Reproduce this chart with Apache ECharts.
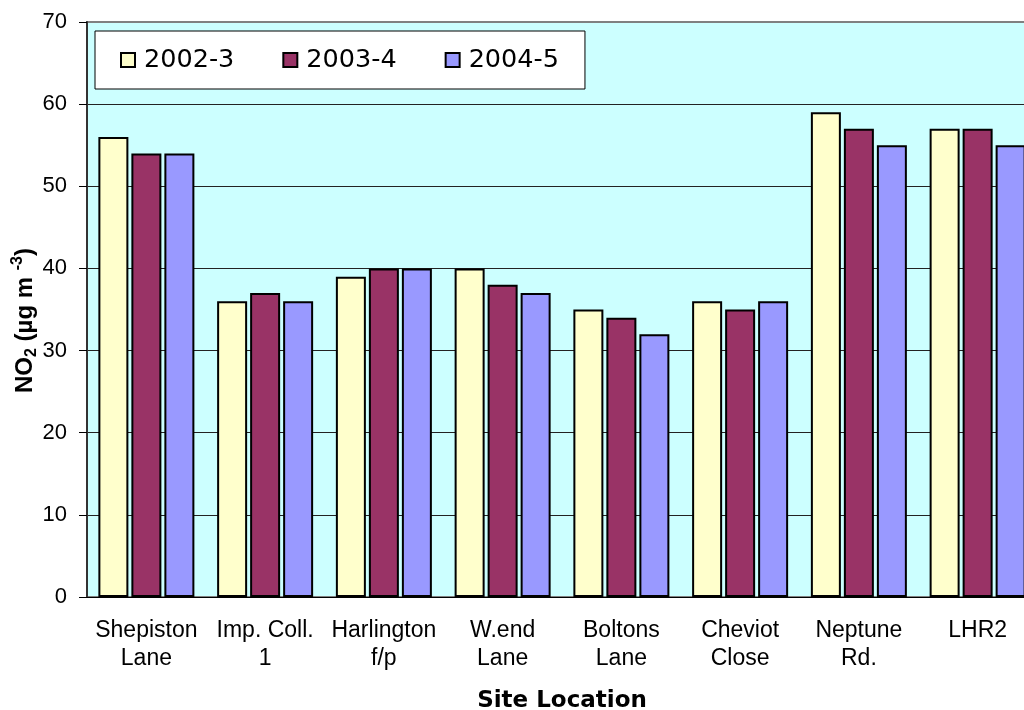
<!DOCTYPE html>
<html>
<head>
<meta charset="utf-8">
<script src="https://cdn.jsdelivr.net/npm/echarts@6/dist/echarts.min.js"></script>
<style>
  html, body { margin: 0; padding: 0; background: #fff; }
  #main { width: 1024px; height: 710px; }
</style>
</head>
<body>
<div id="main"></div>
<script>
// site locations along the x axis
const sites = ['Shepiston\nLane', 'Imp. Coll.\n1', 'Harlington\nf/p', 'W.end\nLane',
  'Boltons\nLane', 'Cheviot\nClose', 'Neptune\nRd.', 'LHR2'];
const seriesNames = ['2002-3', '2003-4', '2004-5'];
// NO2 annual means per year
const y2002 = [56, 36, 39, 40, 35, 36, 59, 57];
const y2003 = [54, 37, 40, 38, 34, 35, 57, 57];
const y2004 = [54, 36, 40, 37, 32, 36, 55, 55];
const colors = ['#FFFFCC', '#993366', '#9999FF'];

const chart = echarts.init(document.getElementById('main'));
const values = [y2002, y2003, y2004];

const option = {
  animation: false,
  grid: {
    left: 87, right: -13, top: 22, bottom: 113,
    outerBoundsMode: 'none',
    containLabel: false,
    show: true,
    backgroundColor: '#CCFFFF',
    borderColor: '#808080',
    borderWidth: 2
  },
  legend: {
    left: 95, top: 31,
    orient: 'horizontal',
    backgroundColor: '#fff',
    borderColor: '#000',
    borderWidth: 1,
    padding: [16, 26, 16, 25],
    itemGap: 48,
    itemWidth: 14,
    itemHeight: 14,
    icon: 'rect',
    itemStyle: { borderColor: '#000', borderWidth: 2 },
    textStyle: { fontFamily: 'DejaVu Sans', fontSize: 25.5, color: '#000', padding: [0, 0, 0, 4] },
    data: seriesNames
  },
  xAxis: {
    type: 'category',
    data: sites,
    axisLine: { lineStyle: { color: '#000', width: 1 } },
    axisTick: { show: false },
    axisLabel: {
      fontFamily: 'Liberation Sans', fontSize: 23, color: '#000',
      lineHeight: 28, margin: 20, interval: 0
    },
    name: 'Site Location',
    nameLocation: 'middle',
    nameGap: 93,
    nameMoveOverlap: false,
    nameTextStyle: { fontFamily: 'DejaVu Sans', fontWeight: 'bold', fontSize: 23, color: '#000' }
  },
  yAxis: {
    type: 'value',
    min: 0, max: 70, interval: 10,
    axisLine: { show: true, lineStyle: { color: '#333', width: 2 } },
    axisTick: { show: true, length: 8, lineStyle: { color: '#000' } },
    axisLabel: { fontFamily: 'Liberation Sans', fontSize: 22, color: '#000', margin: 20 },
    splitLine: {
      lineStyle: {
        color: ['#000', '#222', '#222', '#222', '#222', '#222', '#222', '#808080'],
        width: 1
      }
    },
    name: '{b|NO}{s|2}{b| (µg m }{u|-3}{b|)}',
    nameLocation: 'middle',
    nameGap: 47,
    nameMoveOverlap: false,
    nameRotate: 90,
    nameTextStyle: {
      padding: [0, 22, 0, 0],
      rich: {
        b: { fontFamily: 'Liberation Sans', fontWeight: 'bold', fontSize: 24, color: '#000', lineHeight: 30, verticalAlign: 'middle' },
        s: { fontFamily: 'Liberation Sans', fontWeight: 'bold', fontSize: 16, color: '#000', lineHeight: 14, verticalAlign: 'bottom' },
        u: { fontFamily: 'Liberation Sans', fontWeight: 'bold', fontSize: 16, color: '#000', lineHeight: 14, verticalAlign: 'top' }
      }
    }
  },
  series: seriesNames.map((name, i) => ({
    name: name,
    type: 'bar',
    barWidth: 30,
    barGap: '10%',
    itemStyle: { color: colors[i], borderColor: '#000', borderWidth: 2 },
    data: values[i]
  }))
};

chart.setOption(option);
</script>
</body>
</html>
